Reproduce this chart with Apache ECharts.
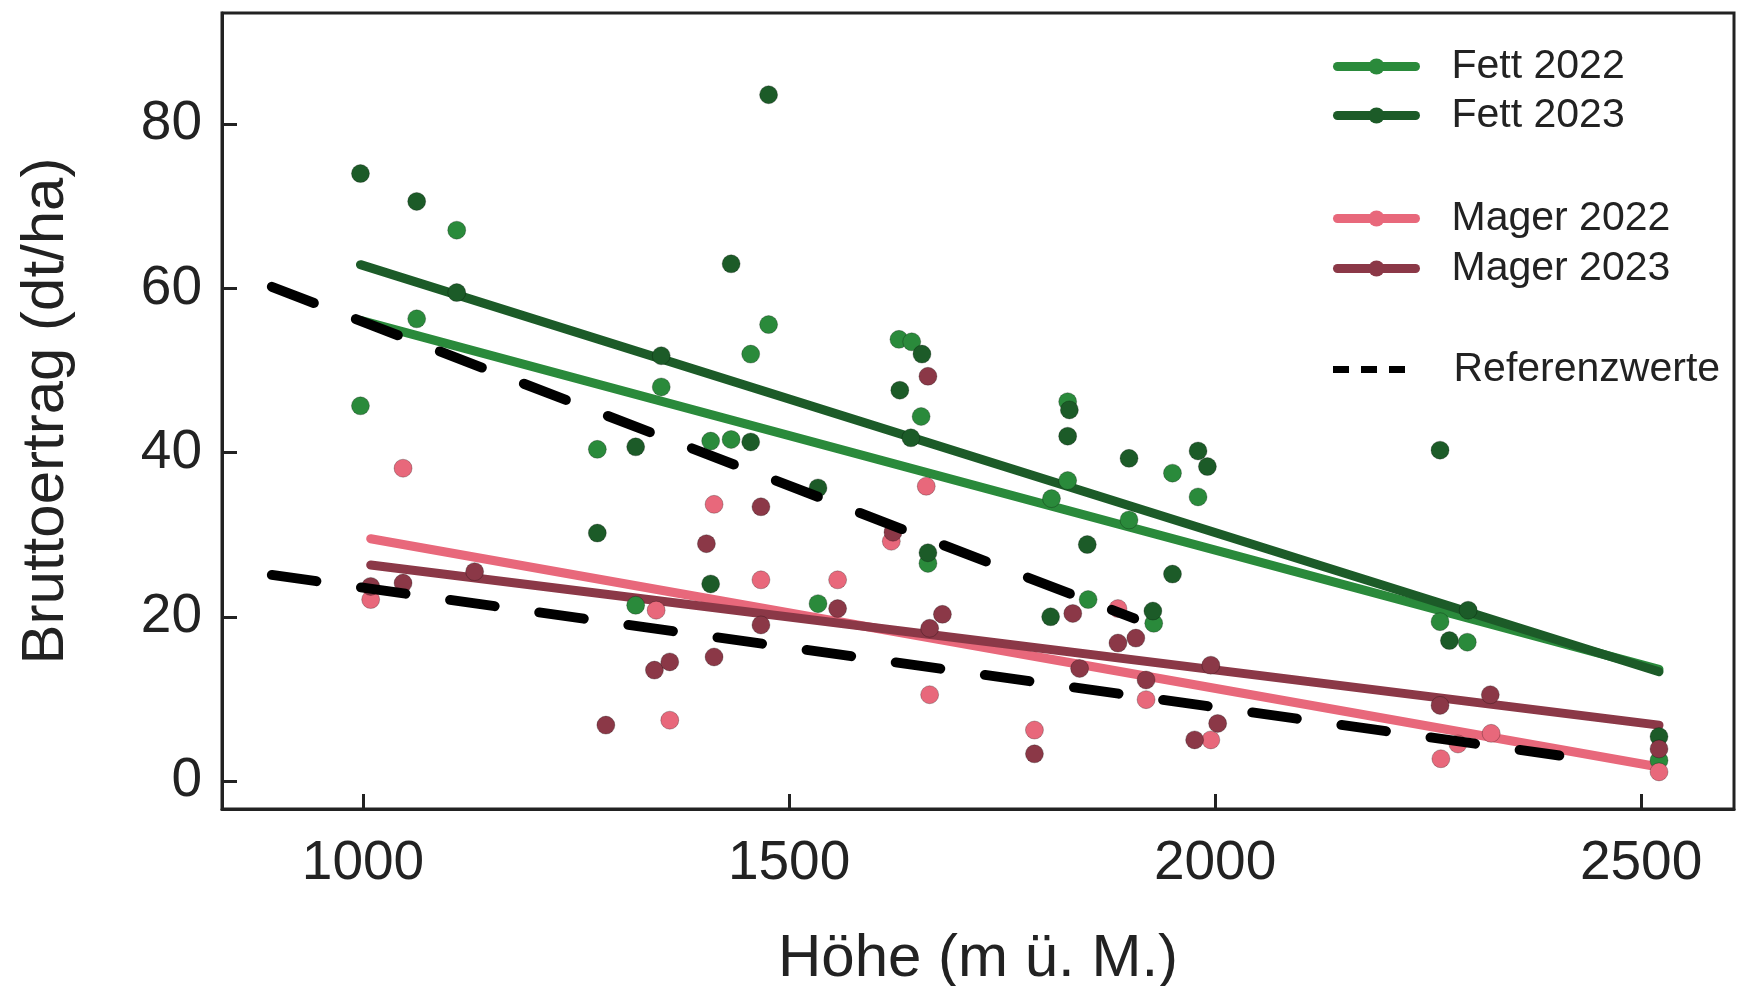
<!DOCTYPE html>
<html>
<head>
<meta charset="utf-8">
<script src="https://cdn.jsdelivr.net/npm/echarts@6/dist/echarts.min.js"></script>
<style>
html,body{margin:0;padding:0;background:#ffffff;}
#chart{width:1741px;height:986px;}
</style>
</head>
<body>
<div id="chart"></div>
<script>
// ---- data ----
const seriesNames = ['Fett 2022', 'Fett 2023', 'Mager 2022', 'Mager 2023'];
const refName = 'Referenzwerte';
const xTitle = 'Höhe (m ü. M.)';
const yTitle = 'Bruttoertrag (dt/ha)';
const xTicks = [1000, 1500, 2000, 2500];
const yTicks = [0, 20, 40, 60, 80];

const fett2022 = [[997,45.7],[1063,56.3],[1110,67.1],[1275,40.4],[1320,21.4],[1350,48.0],[1408,41.4],[1432,41.6],[1455,52.0],[1476,55.6],[1534,21.6],[1629,53.8],[1644,53.5],[1655,44.4],[1663,26.5],[1808,34.4],[1827,46.2],[1827,36.6],[1851,22.1],[1899,31.8],[1928,19.2],[1950,37.5],[1980,34.6],[2264,19.4],[2296,16.9],[2521,2.5]];
const fett2023 = [[997,74.0],[1063,70.6],[1110,59.5],[1275,30.2],[1320,40.7],[1350,51.8],[1408,24.0],[1432,63.0],[1455,41.3],[1476,83.6],[1534,35.7],[1630,47.6],[1643,41.8],[1656,52.0],[1663,27.8],[1807,20.0],[1829,45.2],[1827,42.0],[1850,28.8],[1899,39.3],[1927,20.7],[1950,25.2],[1980,40.2],[1991,38.3],[2264,40.3],[2275,17.1],[2297,20.8],[2521,5.4]];
const mager2022 = [[1009,22.1],[1047,38.1],[1344,20.8],[1360,7.4],[1412,33.7],[1467,24.5],[1557,24.5],[1620,29.2],[1661,35.9],[1665,10.5],[1788,6.2],[1886,21.0],[1919,9.9],[1995,5.0],[2265,2.7],[2285,4.5],[2324,5.8],[2521,1.1]];
const mager2023 = [[1009,23.7],[1047,24.1],[1131,25.5],[1285,6.8],[1342,13.5],[1360,14.5],[1403,28.9],[1412,15.1],[1467,33.4],[1467,19.0],[1557,21.0],[1622,30.3],[1663,49.3],[1665,18.6],[1680,20.3],[1788,3.3],[1833,20.4],[1841,13.7],[1886,16.8],[1907,17.4],[1919,12.3],[1976,5.0],[1995,14.1],[2003,7.0],[2264,9.2],[2323,10.5],[2521,3.9]];

// fitted trend lines (end points)
const fett2022Fit = [[997,56.1],[2521,13.6]];
const fett2023Fit = [[997,62.9],[2521,13.3]];
const mager2022Fit = [[1009,29.5],[2521,1.7]];
const mager2023Fit = [[1009,26.3],[2521,6.8]];

// reference values (dashed)
const refFett = [[893,60.2],[1905,19.8]];
const refMager = [[893,25.1],[2404,3.1]];

// ---- styling ----
const colors = ['#2a8a3b', '#1c5b28', '#e8687b', '#8b3847'];
const font = '"Liberation Sans", Arial, Helvetica, sans-serif';
const ink = '#222222';

const points = [fett2022, fett2023, mager2022, mager2023];
const fits = [fett2022Fit, fett2023Fit, mager2022Fit, mager2023Fit];

const series = [];
seriesNames.forEach((name, i) => {
  series.push({
    name: name,
    type: 'line',
    data: fits[i],
    symbol: 'circle',
    symbolSize: 16,
    showSymbol: false,
    itemStyle: { color: colors[i] },
    lineStyle: { color: colors[i], width: 9, cap: 'round' },
    z: 2,
    silent: true
  });
});
seriesNames.forEach((name, i) => {
  series.push({
    name: name + ' (Punkte)',
    type: 'scatter',
    data: points[i],
    symbol: 'circle',
    symbolSize: 18,
    itemStyle: { color: colors[i], borderColor: 'rgba(0,0,0,0.25)', borderWidth: 1, opacity: 1 },
    z: 3,
    silent: true
  });
});
[refFett, refMager].forEach(d => {
  series.push({
    name: refName,
    type: 'line',
    data: d,
    symbol: 'none',
    lineStyle: { color: '#000000', width: 10, type: [45, 45], cap: 'round' },
    z: 4,
    silent: true
  });
});

const legendCommon = {
  orient: 'vertical',
  left: 1328,
  itemWidth: 78,
  itemHeight: 20,
  itemGap: 8,
  selectedMode: false,
  textStyle: { fontSize: 41, color: ink, fontFamily: font, padding: [0, 0, 0, 31] },
  lineStyle: { width: 9, cap: 'round' }
};

const option = {
  animation: false,
  backgroundColor: '#ffffff',
  textStyle: { fontFamily: font },
  grid: {
    left: 222, right: 7, top: 13, bottom: 177,
    show: true, borderColor: ink, borderWidth: 3,
    containLabel: false, outerBoundsMode: 'none'
  },
  legend: [
    Object.assign({}, legendCommon, { data: seriesNames.slice(0, 2), top: 41 }),
    Object.assign({}, legendCommon, { data: seriesNames.slice(2, 4), top: 193, itemGap: 9 }),
    Object.assign({}, legendCommon, {
      data: [{ name: refName, icon: 'path://M0,0H16V7H0Z M28,0H44V7H28Z M56,0H72V7H56Z', itemStyle: { color: '#000' } }],
      top: 344, itemWidth: 75, itemHeight: 7,
      textStyle: { fontSize: 41, color: ink, fontFamily: font, padding: [0, 0, 0, 42] }
    })
  ],
  xAxis: {
    type: 'value', min: 834.5, max: 2609,
    name: xTitle, nameLocation: 'middle', nameGap: 120,
    nameTextStyle: { fontSize: 60, color: ink, fontFamily: font },
    axisLine: { show: true, onZero: false, lineStyle: { color: ink, width: 3 } },
    axisTick: { show: true, inside: true, length: 15, customValues: xTicks, lineStyle: { color: ink, width: 3 } },
    axisLabel: { customValues: xTicks, fontSize: 55, margin: 27, color: ink, fontFamily: font, formatter: v => String(v) },
    splitLine: { show: false }
  },
  yAxis: {
    type: 'value', min: -3.42, max: 93.56,
    name: yTitle, nameLocation: 'middle', nameGap: 146, nameRotate: 90,
    nameTextStyle: { fontSize: 60, color: ink, fontFamily: font },
    axisLine: { show: true, onZero: false, lineStyle: { color: ink, width: 3 } },
    axisTick: { show: true, inside: true, length: 15, customValues: yTicks, lineStyle: { color: ink, width: 3 } },
    axisLabel: { customValues: yTicks, fontSize: 55, margin: 20, color: ink, fontFamily: font, formatter: v => String(v) },
    splitLine: { show: false }
  },
  series: series
};

const chart = echarts.init(document.getElementById('chart'), null, { renderer: 'canvas' });
chart.setOption(option);
</script>
</body>
</html>
